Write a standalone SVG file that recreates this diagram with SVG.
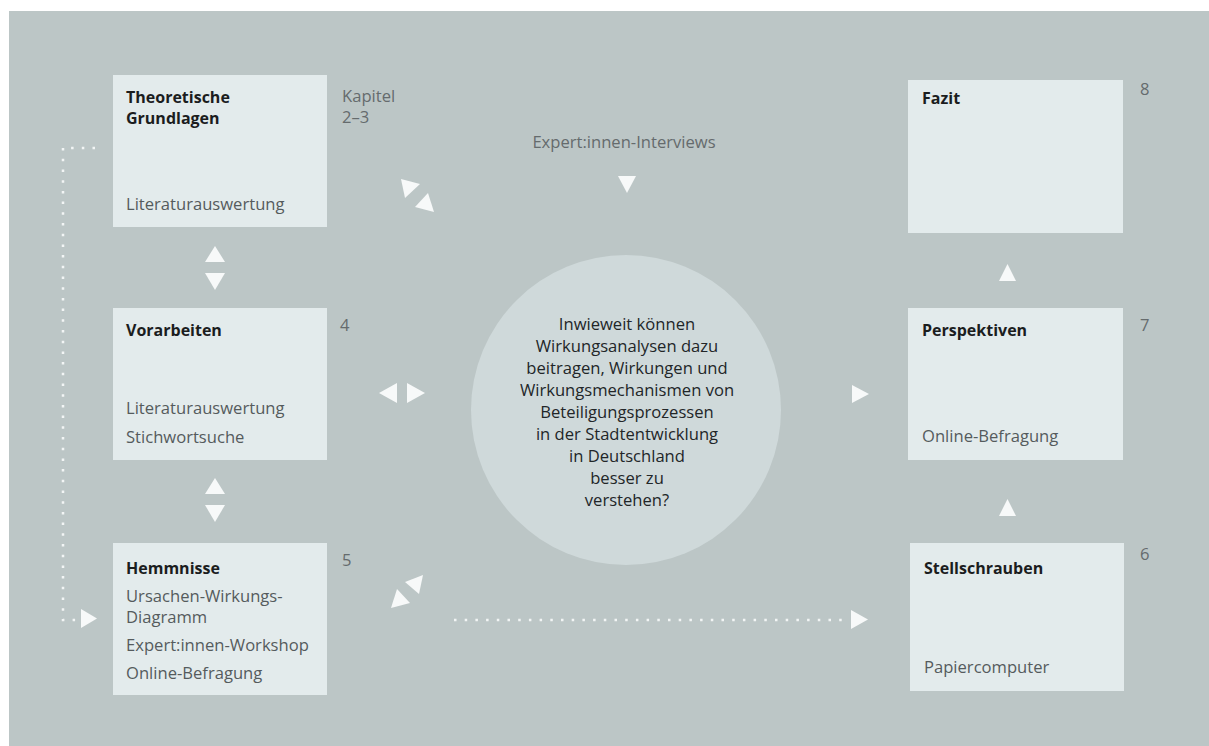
<svg xmlns="http://www.w3.org/2000/svg" width="1209" height="746" viewBox="0 0 1209 746">
<style>
.box{fill:#e3ebec}
.t{font-family:"Open Sans","Liberation Sans",sans-serif;font-size:16.6px;fill:#555b5d}
.b{font-family:"Open Sans","Liberation Sans",sans-serif;font-size:16px;font-weight:bold;fill:#1b1d1e}
.n{font-family:"Open Sans","Liberation Sans",sans-serif;font-size:16.6px;fill:#656b6d}
.c{font-family:"Open Sans","Liberation Sans",sans-serif;font-size:16.6px;fill:#222628;text-anchor:middle}
.tri{fill:#f7f9f9}
.dot{fill:none;stroke:#f2f5f5;stroke-width:2.5;stroke-dasharray:2.5 8.2}
</style>
<rect x="0" y="0" width="1209" height="746" fill="#ffffff"/>
<rect x="9" y="11" width="1200" height="735" fill="#bcc6c6"/>

<g id="connectors">
  <path class="dot" d="M95 148 H63 V620 H76"/>
  <path class="dot" d="M454 620 H842"/>
  <polygon class="tri" points="81,609 81,628 97,618.5"/>
  <polygon class="tri" points="851,610 851,629 868,619.5"/>
  <polygon class="tri" points="401,179 420,184 405,198"/>
  <polygon class="tri" points="434,212 415,207 428,193"/>
  <polygon class="tri" points="618,176 636,176 627,193"/>
  <polygon class="tri" points="379,393 397,383 397,403"/>
  <polygon class="tri" points="425,393 407,383 407,403"/>
  <polygon class="tri" points="869,394 852,385 852,403"/>
  <polygon class="tri" points="1007.5,264 999,281 1016,281"/>
  <polygon class="tri" points="1007.5,499 999,516 1016,516"/>
  <polygon class="tri" points="215,246 205,262 225,262"/>
  <polygon class="tri" points="215,290 205,273 225,273"/>
  <polygon class="tri" points="215,478 205,494 225,494"/>
  <polygon class="tri" points="215,522 205,505 225,505"/>
  <polygon class="tri" points="423,575 405,582 419,594"/>
  <polygon class="tri" points="391,608 397,589 410,603"/>
</g>

<g id="theorie">
  <rect class="box" x="113" y="75" width="214" height="152"/>
  <text class="b" x="126" y="103">Theoretische</text>
  <text class="b" x="126" y="124">Grundlagen</text>
  <text class="t" x="126" y="210">Literaturauswertung</text>
  <text class="n" x="342" y="102">Kapitel</text>
  <text class="n" x="342" y="123">2–3</text>
</g>

<g id="interviews">
  <text class="n" x="624" y="148" text-anchor="middle">Expert:innen-Interviews</text>
</g>

<g id="vorarbeiten">
  <rect class="box" x="113" y="308" width="214" height="152"/>
  <text class="b" x="126" y="336">Vorarbeiten</text>
  <text class="t" x="126" y="414">Literaturauswertung</text>
  <text class="t" x="126" y="443">Stichwortsuche</text>
  <text class="n" x="340" y="331">4</text>
</g>

<g id="hemmnisse">
  <rect class="box" x="113" y="543" width="214" height="152"/>
  <text class="b" x="126" y="574">Hemmnisse</text>
  <text class="t" x="126" y="602">Ursachen-Wirkungs-</text>
  <text class="t" x="126" y="623">Diagramm</text>
  <text class="t" x="126" y="651">Expert:innen-Workshop</text>
  <text class="t" x="126" y="679">Online-Befragung</text>
  <text class="n" x="342" y="566">5</text>
</g>

<g id="frage">
  <circle cx="626" cy="410" r="155" fill="#cfd9da"/>
  <text class="c" x="627" y="330">Inwieweit können</text>
  <text class="c" x="627" y="352">Wirkungsanalysen dazu</text>
  <text class="c" x="627" y="374">beitragen, Wirkungen und</text>
  <text class="c" x="627" y="396">Wirkungsmechanismen von</text>
  <text class="c" x="627" y="418">Beteiligungsprozessen</text>
  <text class="c" x="627" y="440">in der Stadtentwicklung</text>
  <text class="c" x="627" y="462">in Deutschland</text>
  <text class="c" x="627" y="484">besser zu</text>
  <text class="c" x="627" y="506">verstehen?</text>
</g>

<g id="fazit">
  <rect class="box" x="908" y="80" width="215" height="153"/>
  <text class="b" x="922" y="104">Fazit</text>
  <text class="n" x="1140" y="95">8</text>
</g>

<g id="perspektiven">
  <rect class="box" x="908" y="308" width="215" height="152"/>
  <text class="b" x="922" y="336">Perspektiven</text>
  <text class="t" x="922" y="442">Online-Befragung</text>
  <text class="n" x="1140" y="331">7</text>
</g>

<g id="stellschrauben">
  <rect class="box" x="910" y="543" width="214" height="148"/>
  <text class="b" x="924" y="574">Stellschrauben</text>
  <text class="t" x="924" y="673">Papiercomputer</text>
  <text class="n" x="1140" y="560">6</text>
</g>
</svg>
